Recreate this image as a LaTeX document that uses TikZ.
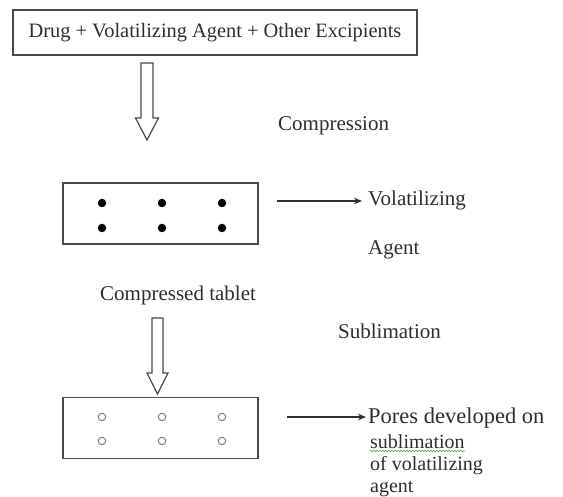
\documentclass[tikz,border=0pt]{standalone}
\usepackage{fontspec}
\setmainfont{Liberation Serif}
\usetikzlibrary{arrows.meta,decorations.pathmorphing}
\definecolor{txt}{HTML}{2E2E2E}
\definecolor{ln}{HTML}{4A4A4A}
\begin{document}
\begin{tikzpicture}[x=1pt,y=-1pt,
  lbl/.style={inner sep=0pt,anchor=base west,text=txt,font=\fontsize{21}{23}\selectfont},
  small/.style={lbl,font=\fontsize{20}{22}\selectfont},
  tabbox/.style={draw=ln,line width=1.3pt,minimum width=195pt,minimum height=61pt,inner sep=0pt},
  fulldot/.style={circle,fill=black,inner sep=0pt,minimum size=8.5pt},
  pore/.style={circle,draw=gray,line width=1pt,inner sep=0pt,minimum size=7.5pt},
  hollow/.style={draw=ln,line width=1.2pt,fill=white},
  pointer/.style={draw=txt,line width=1.1pt,-{Stealth[length=8pt,width=6.5pt]}}]
\useasboundingbox (0,0) rectangle (563,497);
% top box
\node[draw=ln,line width=1.3pt,minimum width=404pt,minimum height=45pt,inner sep=0pt,
  text=txt,font=\fontsize{20.4}{22}\selectfont] (mix) at (215,32.5)
  {Drug + Volatilizing Agent + Other Excipients};
% hollow arrow 1
\draw[hollow] (141,63) -- (153,63) -- (153,118) -- (158.5,118) -- (147,140)
  -- (135.5,118) -- (141,118) -- cycle;
\node[lbl] (comp) at (278,131) {Compression};
% tablet 1
\node[tabbox] (tab1) at (160.5,213.5) {};
\foreach \i/\x in {1/102,2/162,3/222}{
  \node[fulldot] (d\i a) at (\x,203) {};
  \node[fulldot] (d\i b) at (\x,228) {};
}
\coordinate (p1) at (277,201);
\node[lbl] (vol) at (368,206) {Volatilizing};
\node[lbl] (agent) at (368,255) {Agent};
\draw[pointer] (p1) -- (362,201);
\node[lbl] (ctab) at (100,301) {Compressed tablet};
% hollow arrow 2
\draw[hollow] (152,318) -- (163,318) -- (163,373) -- (168,373) -- (157.5,394)
  -- (147,373) -- (152,373) -- cycle;
\node[lbl] (subl) at (338,339) {Sublimation};
% tablet 2
\node[tabbox] (tab2) at (160.5,428) {};
\foreach \i/\x in {1/102,2/162,3/222}{
  \node[pore] (c\i a) at (\x,417) {};
  \node[pore] (c\i b) at (\x,441) {};
}
\coordinate (p2) at (287,417);
\node[lbl,font=\fontsize{22.5}{24}\selectfont] (po1) at (368,424) {Pores developed on};
\node[small] (po2) at (370,448) {sublimation};
\node[small] (po3) at (370,471) {of volatilizing};
\node[small] (po4) at (370,493) {agent};
\draw[pointer] (p2) -- (366,417);
\draw[draw=green!55!black!70,line width=0.6pt,decorate,
  decoration={snake,amplitude=0.9pt,segment length=3pt}]
  ([yshift=-3pt]po2.base west) -- ([yshift=-3pt]po2.base east);
\end{tikzpicture}
\end{document}
